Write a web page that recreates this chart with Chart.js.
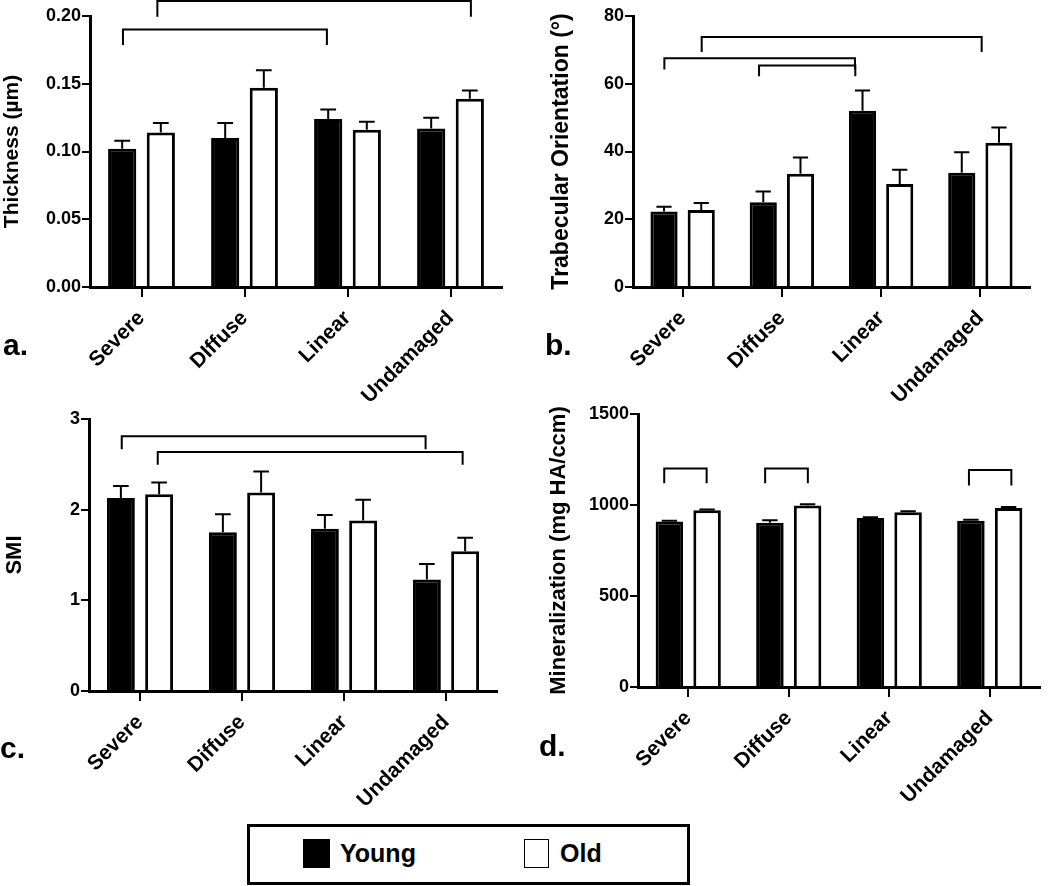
<!DOCTYPE html>
<html lang="en">
<head>
  <meta charset="UTF-8" />
  <title>Young vs Old by damage type</title>
  <script src="https://cdn.jsdelivr.net/npm/chart.js"></script>
  <style>
    body {
      margin: 0;
      background: #fff;
      font-family: "Liberation Sans", Arial, sans-serif;
    }
    #wrap {
      position: relative;
      width: 1050px;
      height: 886px;
      overflow: hidden;
    }
    canvas {
      position: absolute;
    }
    .tag {
      position: absolute;
      font-weight: bold;
      font-size: 30px;
      line-height: 30px;
    }
    .legend {
      position: absolute;
      left: 247px;
      top: 824px;
      width: 443px;
      height: 61px;
      border: 3px solid #000;
      box-sizing: border-box;
    }
    .swatch {
      position: absolute;
      top: 12px;
      width: 27px;
      height: 29px;
      box-sizing: border-box;
    }
    .lbl {
      position: absolute;
      top: 14px;
      font-weight: bold;
      font-size: 25px;
      line-height: 25px;
    }
  </style>
</head>
<body>
<div id="wrap">
  <canvas id="chartA" width="520" height="420" style="left:0;top:0"></canvas>
  <canvas id="chartB" width="530" height="420" style="left:520px;top:0"></canvas>
  <canvas id="chartC" width="520" height="420" style="left:0;top:400px"></canvas>
  <canvas id="chartD" width="530" height="420" style="left:520px;top:400px"></canvas>

  <div class="tag" style="left:3px;top:330px">a.</div>
  <div class="tag" style="left:545px;top:330px">b.</div>
  <div class="tag" style="left:0;top:733px">c.</div>
  <div class="tag" style="left:539px;top:731px">d.</div>

  <div class="legend">
    <span class="swatch" style="left:53px;background:#000"></span>
    <span class="lbl" style="left:90px">Young</span>
    <span class="swatch" style="left:274px;width:25px;border:1.5px solid #000;background:#fff"></span>
    <span class="lbl" style="left:310px">Old</span>
  </div>
</div>

<script>
  const categories = ["Severe", "Diffuse", "Linear", "Undamaged"];
  const categoriesA = ["Severe", "DIffuse", "Linear", "Undamaged"];

  // a. thickness (um)
  const thickYoung = [0.102, 0.110, 0.124, 0.117];
  const thickYoungSem = [0.006, 0.011, 0.007, 0.008];
  const thickOld = [0.114, 0.147, 0.116, 0.139];
  const thickOldSem = [0.007, 0.013, 0.006, 0.006];
  // significance brackets: [from, to, top, leg end] in category / value units
  const thickBrackets = [[-0.18, 1.80, 0.190, 0.1786], [0.154, 3.198, 0.211, 0.1995]];

  // b. trabecular orientation (deg)
  const orientYoung = [22.3, 25.0, 52.0, 33.7];
  const orientYoungSem = [1.4, 3.2, 6.0, 6.1];
  const orientOld = [22.7, 33.4, 30.4, 42.6];
  const orientOldSem = [2.1, 4.8, 4.2, 4.5];
  const orientBrackets = [[0.192, 3.013, 73.8, 69.4], [-0.184, 1.737, 67.5, 64.2], [0.77, 1.74, 65.4, 62.2]];

  // c. SMI
  const smiYoung = [2.13, 1.75, 1.79, 1.23];
  const smiYoungSem = [0.13, 0.20, 0.15, 0.17];
  const smiOld = [2.17, 2.19, 1.88, 1.54];
  const smiOldSem = [0.13, 0.23, 0.23, 0.15];
  const smiBrackets = [[-0.179, 2.80, 2.81, 2.665], [0.174, 3.163, 2.635, 2.496]];

  // d. mineralization (mg HA/ccm)
  const minYoung = [910, 903, 929, 914];
  const minYoungSem = [3, 13, 4, 5];
  const minOld = [971, 997, 960, 984];
  const minOldSem = [4, 7, 5, 5];
  const minBrackets = [[-0.239, 0.183, 1200, 1120], [0.765, 1.19, 1200, 1120], [2.793, 3.215, 1192, 1107]];

  Chart.defaults.font.family = '"Liberation Sans", Arial, sans-serif';
  Chart.defaults.color = '#000';

  const marks = {
    id: 'marks',
    afterDatasetsDraw(chart, args, opts) {
      const { ctx } = chart;
      const x = chart.scales.x, y = chart.scales.y;
      ctx.save();
      ctx.strokeStyle = '#000';
      ctx.lineWidth = 2;
      chart.data.datasets.forEach((ds, i) => {
        chart.getDatasetMeta(i).data.forEach((bar, j) => {
          const top = y.getPixelForValue(ds.data[j] + ds.sem[j]);
          const half = bar.width * 0.28;
          ctx.beginPath();
          ctx.moveTo(bar.x, bar.y);
          ctx.lineTo(bar.x, top);
          ctx.moveTo(bar.x - half, top);
          ctx.lineTo(bar.x + half, top);
          ctx.stroke();
        });
      });
      (opts.brackets || []).forEach(([from, to, top, leg]) => {
        const x1 = x.getPixelForValue(from), x2 = x.getPixelForValue(to);
        const yt = y.getPixelForValue(top), yl = y.getPixelForValue(leg);
        ctx.beginPath();
        ctx.moveTo(x1, yl);
        ctx.lineTo(x1, yt);
        ctx.lineTo(x2, yt);
        ctx.lineTo(x2, yl);
        ctx.stroke();
      });
      ctx.restore();
    }
  };

  function makePanel(id, labels, young, youngSem, old, oldSem, yAxis, brackets, box) {
    new Chart(document.getElementById(id), {
      type: 'bar',
      data: {
        labels,
        datasets: [
          { label: 'Young', data: young, sem: youngSem, backgroundColor: '#000', borderColor: '#000', borderWidth: 3 },
          { label: 'Old', data: old, sem: oldSem, backgroundColor: '#fff', borderColor: '#000', borderWidth: 3 }
        ]
      },
      options: {
        responsive: false,
        animation: false,
        categoryPercentage: 0.75,
        barPercentage: 0.73,
        layout: { padding: { left: box.padLeft, top: box.padTop, right: box.padRight, bottom: 0 } },
        plugins: {
          legend: { display: false },
          tooltip: { enabled: false },
          marks: { brackets }
        },
        scales: {
          x: {
            grid: { drawOnChartArea: false, offset: false, tickLength: 10, lineWidth: 2, color: '#000' },
            border: { display: true, width: 3, color: '#000' },
            ticks: { font: { size: 21, weight: 'bold' }, minRotation: 45, maxRotation: 45, padding: 9, autoSkip: false },
            afterFit: s => { s.height = box.xHeight; }
          },
          y: {
            min: yAxis.min,
            max: yAxis.max,
            grid: { drawOnChartArea: false, tickLength: 8, lineWidth: 2, color: '#000' },
            border: { display: true, width: 3, color: '#000' },
            ticks: { stepSize: yAxis.step, font: { size: 18, weight: 'bold' }, padding: 1,
                     callback: v => v.toFixed(yAxis.digits) },
            title: { display: true, text: yAxis.title, font: { size: yAxis.titleSize, weight: 'bold' }, padding: { top: 0, bottom: 0 } },
            afterFit: s => { s.width = box.yWidth; }
          }
        }
      },
      plugins: [marks]
    });
  }

  makePanel('chartA', categoriesA, thickYoung, thickYoungSem, thickOld, thickOldSem,
    { min: 0, max: 0.2, step: 0.05, digits: 2, title: 'Thickness (\u00b5m)', titleSize: 21 }, thickBrackets,
    { padLeft: 0, padTop: 16, padRight: 18, yWidth: 90, xHeight: 133 });

  makePanel('chartB', categories, orientYoung, orientYoungSem, orientOld, orientOldSem,
    { min: 0, max: 80, step: 20, digits: 0, title: 'Trabecular Orientation (\u00b0)', titleSize: 23 }, orientBrackets,
    { padLeft: 28, padTop: 16, padRight: 20, yWidth: 85, xHeight: 133 });

  makePanel('chartC', categories, smiYoung, smiYoungSem, smiOld, smiOldSem,
    { min: 0, max: 3, step: 1, digits: 0, title: 'SMI', titleSize: 22 }, smiBrackets,
    { padLeft: 2, padTop: 19, padRight: 23, yWidth: 87, xHeight: 129 });

  makePanel('chartD', categories, minYoung, minYoungSem, minOld, minOldSem,
    { min: 0, max: 1500, step: 500, digits: 0, title: 'Mineralization (mg HA/ccm)', titleSize: 22 }, minBrackets,
    { padLeft: 26, padTop: 14, padRight: 10, yWidth: 92, xHeight: 133 });
</script>
</body>
</html>
